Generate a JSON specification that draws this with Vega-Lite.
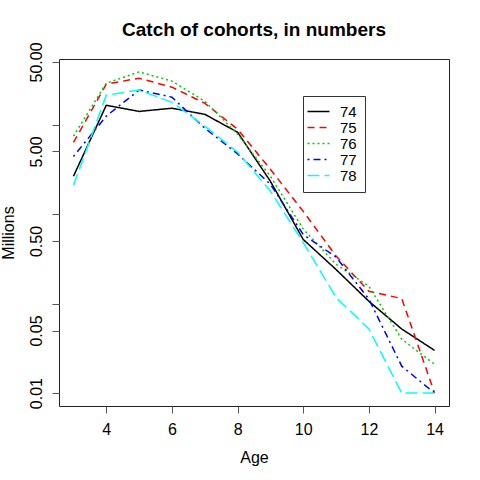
{
  "$schema": "https://vega.github.io/schema/vega-lite/v6.json",
  "width": 390,
  "height": 347,
  "autosize": {"type": "none"},
  "padding": {"left": 59, "top": 59, "right": 31, "bottom": 74},
  "background": "white",
  "title": {
    "text": "Catch of cohorts, in numbers",
    "font": "Liberation Sans",
    "fontSize": 19,
    "fontWeight": "bold",
    "color": "black",
    "anchor": "middle",
    "baseline": "alphabetic",
    "offset": 22,
    "dy": 35
  },
  "data": {
    "values": [
      {"age": 3, "cohort": "74", "catch": 2.64},
      {"age": 4, "cohort": "74", "catch": 16.4},
      {"age": 5, "cohort": "74", "catch": 14.0},
      {"age": 6, "cohort": "74", "catch": 15.2},
      {"age": 7, "cohort": "74", "catch": 13.0},
      {"age": 8, "cohort": "74", "catch": 8.2},
      {"age": 9, "cohort": "74", "catch": 2.32},
      {"age": 10, "cohort": "74", "catch": 0.52},
      {"age": 11, "cohort": "74", "catch": 0.24},
      {"age": 12, "cohort": "74", "catch": 0.106},
      {"age": 13, "cohort": "74", "catch": 0.052},
      {"age": 14, "cohort": "74", "catch": 0.03},
      {"age": 3, "cohort": "75", "catch": 6.3},
      {"age": 4, "cohort": "75", "catch": 28.2},
      {"age": 5, "cohort": "75", "catch": 32.9},
      {"age": 6, "cohort": "75", "catch": 26.1},
      {"age": 7, "cohort": "75", "catch": 17.3},
      {"age": 8, "cohort": "75", "catch": 8.85},
      {"age": 9, "cohort": "75", "catch": 3.16},
      {"age": 10, "cohort": "75", "catch": 1.07},
      {"age": 11, "cohort": "75", "catch": 0.34},
      {"age": 12, "cohort": "75", "catch": 0.137},
      {"age": 13, "cohort": "75", "catch": 0.114},
      {"age": 14, "cohort": "75", "catch": 0.01},
      {"age": 3, "cohort": "76", "catch": 7.4},
      {"age": 4, "cohort": "76", "catch": 28.9},
      {"age": 5, "cohort": "76", "catch": 38.7},
      {"age": 6, "cohort": "76", "catch": 30.5},
      {"age": 7, "cohort": "76", "catch": 18.2},
      {"age": 8, "cohort": "76", "catch": 7.8},
      {"age": 9, "cohort": "76", "catch": 2.64},
      {"age": 10, "cohort": "76", "catch": 0.68},
      {"age": 11, "cohort": "76", "catch": 0.275},
      {"age": 12, "cohort": "76", "catch": 0.156},
      {"age": 13, "cohort": "76", "catch": 0.04},
      {"age": 14, "cohort": "76", "catch": 0.021},
      {"age": 3, "cohort": "77", "catch": 4.4},
      {"age": 4, "cohort": "77", "catch": 12.4},
      {"age": 5, "cohort": "77", "catch": 24.3},
      {"age": 6, "cohort": "77", "catch": 20.2},
      {"age": 7, "cohort": "77", "catch": 9.1},
      {"age": 8, "cohort": "77", "catch": 4.7},
      {"age": 9, "cohort": "77", "catch": 2.15},
      {"age": 10, "cohort": "77", "catch": 0.59},
      {"age": 11, "cohort": "77", "catch": 0.33},
      {"age": 12, "cohort": "77", "catch": 0.112},
      {"age": 13, "cohort": "77", "catch": 0.02},
      {"age": 14, "cohort": "77", "catch": 0.01},
      {"age": 3, "cohort": "78", "catch": 2.09},
      {"age": 4, "cohort": "78", "catch": 21.2},
      {"age": 5, "cohort": "78", "catch": 24.3},
      {"age": 6, "cohort": "78", "catch": 17.7},
      {"age": 7, "cohort": "78", "catch": 9.6},
      {"age": 8, "cohort": "78", "catch": 4.9},
      {"age": 9, "cohort": "78", "catch": 1.8},
      {"age": 10, "cohort": "78", "catch": 0.48},
      {"age": 11, "cohort": "78", "catch": 0.117},
      {"age": 12, "cohort": "78", "catch": 0.052},
      {"age": 13, "cohort": "78", "catch": 0.01},
      {"age": 14, "cohort": "78", "catch": 0.01}
    ]
  },
  "mark": {"type": "line", "strokeWidth": 1.5, "clip": true},
  "encoding": {
    "x": {
      "field": "age",
      "type": "quantitative",
      "title": "Age",
      "scale": {"domain": [2.56, 14.44], "nice": false, "zero": false},
      "axis": {
        "values": [4, 6, 8, 10, 12, 14],
        "grid": false,
        "domain": false,
        "tickColor": "#555",
        "tickSize": 7,
        "labelPadding": 8,
        "labelFontSize": 16,
        "titleFontSize": 16,
        "titlePadding": 12
      }
    },
    "y": {
      "field": "catch",
      "type": "quantitative",
      "title": "Millions",
      "scale": {"type": "log", "domain": [0.00718, 53.9], "nice": false},
      "axis": {
        "values": [0.01, 0.05, 0.1, 0.5, 1, 5, 10, 50],
        "labelExpr": "datum.value == 0.1 || datum.value == 1 || datum.value == 10 ? '' : format(datum.value, '.2f')",
        "grid": false,
        "domain": false,
        "tickColor": "#555",
        "tickSize": 7,
        "labelAngle": -90,
        "labelAlign": "center",
        "labelBaseline": "bottom",
        "labelPadding": 8,
        "labelFontSize": 16,
        "titleFontSize": 16,
        "titlePadding": 12
      }
    },
    "color": {
      "field": "cohort",
      "type": "nominal",
      "scale": {
        "domain": ["74", "75", "76", "77", "78"],
        "range": ["#000000", "#FF0000", "#00CD00", "#0000FF", "#00FFFF"]
      },
      "legend": {
        "title": null,
        "orient": "none",
        "legendX": 244,
        "legendY": 37,
        "symbolType": "M-2,0H2",
        "symbolSize": 121,
        "symbolStrokeWidth": 1.5,
        "labelFontSize": 15,
        "labelOffset": 14,
        "rowPadding": 0,
        "padding": 8,
        "strokeColor": "#333",
        "fillColor": "white"
      }
    },
    "strokeDash": {
      "field": "cohort",
      "type": "nominal",
      "scale": {
        "domain": ["74", "75", "76", "77", "78"],
        "range": [[1, 0], [7, 5], [2, 3], [2, 4, 7, 4], [12, 5]]
      },
      "legend": null
    }
  },
  "config": {
    "font": "Liberation Sans",
    "view": {"stroke": "#222", "strokeWidth": 1},
    "axis": {
      "labelColor": "black",
      "titleColor": "black",
      "titleFontWeight": "normal",
      "labelFont": "Liberation Sans",
      "titleFont": "Liberation Sans"
    },
    "legend": {"labelColor": "black", "labelFont": "Liberation Sans"}
  }
}
